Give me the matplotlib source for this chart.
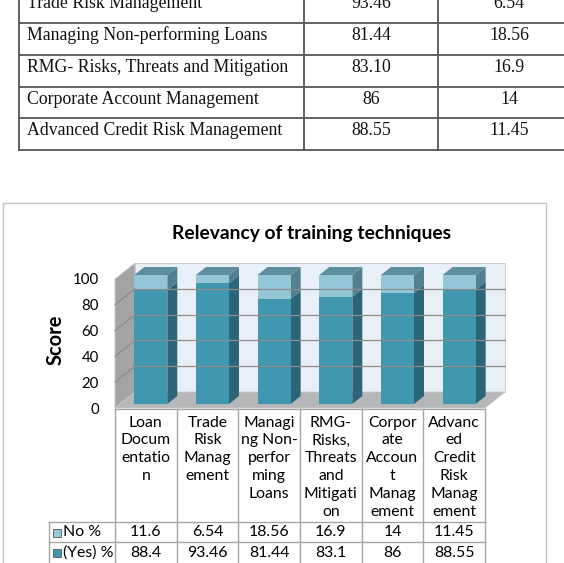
import numpy as np
import matplotlib; matplotlib.use("Agg")
import matplotlib.pyplot as plt
from matplotlib.patches import Polygon, Rectangle

# ── data ─────────────────────────────────────────────────────────────────────
doc_rows = ["Trade Risk Management", "Managing Non-performing Loans",
            "RMG- Risks, Threats and Mitigation", "Corporate Account Management",
            "Advanced Credit Risk Management"]
doc_yes = ["93.46", "81.44", "83.10", "86", "88.55"]
doc_no = ["6.54", "18.56", "16.9", "14", "11.45"]

categories = ["Loan\nDocum\nentatio\nn", "Trade\nRisk\nManag\nement",
              "Managi\nng Non-\nperfor\nming\nLoans",
              "RMG-\nRisks,\nThreats\nand\nMitigati\non",
              "Corpor\nate\nAccoun\nt\nManag\nement",
              "Advanc\ned\nCredit\nRisk\nManag\nement"]
yes_vals = [88.4, 93.46, 81.44, 83.1, 86, 88.55]
no_vals = [11.6, 6.54, 18.56, 16.9, 14, 11.45]
yticks = [0, 20, 40, 60, 80, 100]
title = "Relevancy of training techniques"

# ── colours ──────────────────────────────────────────────────────────────────
yes_front, yes_side = "#4097B0", "#2B6577"
no_front, no_side = "#93C6D7", "#52808F"
top_face = "#5D8E9D"
wall_c, side_c, floor_c = "#E9EFF7", "#A3A4A6", "#B5B6B8"
grid_c, tab_c = "#8C8C8C", "#A6A6A6"

W, H = 564, 563
fig = plt.figure(figsize=(W / 100, H / 100), dpi=100)
plt.rcParams["font.family"] = ["Lato", "DejaVu Sans"]

def fx(px):
    return px / W

def fy(py):
    return (H - py) / H

# background axes in pixel units (document table + chart frame)
bg = fig.add_axes([0, 0, 1, 1])
bg.set_xlim(0, W); bg.set_ylim(H, 0); bg.axis("off")

# ── document table ───────────────────────────────────────────────────────────
row_lines = [23, 55, 87, 118, 150]
for y in row_lines:
    bg.plot([19, W], [y, y], color="#555555", lw=1.3)
for x in [19, 304, 438]:
    bg.plot([x, x], [0, 150], color="#555555", lw=1.3)
tops = [-9] + row_lines[:-1]
for t, lab, a, b in zip(tops, doc_rows, doc_yes, doc_no):
    base = t + 17
    kw = dict(family="Liberation Serif", fontsize=12.8, va="baseline", color="#111111")
    bg.text(27, base, lab, ha="left", **kw)
    bg.text(371, base, a, ha="center", **kw)
    bg.text(509, base, b, ha="center", **kw)

# chart frame
bg.add_patch(Rectangle((3, 203), 543, 380, fill=False, ec="#C4C4C4", lw=1))
bg.text(312, 233, title, ha="center", va="center", fontsize=13.9, fontweight="bold")
bg.text(56, 340, "Score", ha="center", va="center", rotation=90,
        fontsize=14.5, fontweight="bold")

# ── 3D column chart ──────────────────────────────────────────────────────────
ax = fig.add_axes([fx(115), fy(408), fx(485) - fx(115), fy(279) - fy(408)])
ax.patch.set_visible(False)
ax.set_xlim(-0.5, 5.5); ax.set_ylim(0, 100)
for s in ax.spines.values():
    s.set_visible(False)
ax.set_xticks([])
ax.set_yticks(yticks)
ax.tick_params(axis="y", length=0, pad=11.5, labelsize=10.8)

DX, DY = 0.324, 12.4     # depth of the box, in data units
x0, x1 = -0.5, 5.5
polys = [
    ([(x0 + DX, DY), (x1 + DX, DY), (x1 + DX, 100 + DY), (x0 + DX, 100 + DY)], wall_c),
    ([(x0, 0), (x1, 0), (x1 + DX, DY), (x0 + DX, DY)], floor_c),
    ([(x0, 0), (x0 + DX, DY), (x0 + DX, 100 + DY), (x0, 100)], side_c),
]
for pts, c in polys:
    ax.add_patch(Polygon(pts, closed=True, fc=c, ec="#C8C8C8", lw=0.6, clip_on=False))
for v in yticks[1:-1]:
    ax.plot([x0 + DX, x1 + DX], [v + DY, v + DY], color=grid_c, lw=0.9, clip_on=False)
    ax.plot([x0, x0 + DX], [v, v + DY], color="#8A8A8A", lw=0.8, clip_on=False)

w = 0.535
f0, f1 = 0.25, 0.75
ddx, ddy = (f1 - f0) * DX, (f1 - f0) * DY
for i, (yv, nv) in enumerate(zip(yes_vals, no_vals)):
    cx = i + f0 * DX
    b = f0 * DY
    r = cx + w / 2
    l = cx - w / 2
    for y0, y1, c in [(0, yv, yes_side), (yv, yv + nv, no_side)]:
        ax.add_patch(Polygon([(r, b + y0), (r + ddx, b + y0 + ddy),
                              (r + ddx, b + y1 + ddy), (r, b + y1)],
                             fc=c, ec="none", clip_on=False))
    tot = yv + nv
    ax.add_patch(Polygon([(l, b + tot), (r, b + tot), (r + ddx, b + tot + ddy),
                          (l + ddx, b + tot + ddy)], fc=top_face, ec="none", clip_on=False))
    ax.bar(cx, yv, width=w, bottom=b, color=yes_front, clip_on=False)
    ax.bar(cx, nv, width=w, bottom=b + yv, color=no_front, clip_on=False)

# ── data table under the chart ───────────────────────────────────────────────
tb = fig.add_axes([fx(115), 0, fx(485) - fx(115), fy(409)])
tb.patch.set_visible(False); tb.axis("off")
tb.set_xlim(-0.5, 5.5); tb.set_ylim(H, 409)
leg_x = -0.5 - 66 / 61.7
for k in range(7):
    tb.plot([k - 0.5, k - 0.5], [409, H + 5], color=tab_c, lw=1, clip_on=False)
tb.plot([-0.5, 5.5], [409, 409], color=tab_c, lw=1, clip_on=False)
for y in [522, 542]:
    tb.plot([leg_x, 5.5], [y, y], color=tab_c, lw=1, clip_on=False)
tb.plot([leg_x, leg_x], [522, H + 5], color=tab_c, lw=1, clip_on=False)

for i, lab in enumerate(categories):
    tb.text(i, 415.5, lab, ha="center", va="top", fontsize=11.3, linespacing=1.36)
    tb.text(i, 532.5, f"{no_vals[i]:g}", ha="center", va="center", fontsize=11.4)
    tb.text(i, 553, f"{yes_vals[i]:g}", ha="center", va="center", fontsize=11.4)

for y, name, c in [(532.5, "No %", no_front), (553, "(Yes) %", yes_front)]:
    bg.add_patch(Rectangle((52.5, y - 4), 8, 8, fc=c, ec="#555555", lw=0.6))
    bg.text(63, y, name, ha="left", va="center", fontsize=11.4)

fig.savefig("out.png", dpi=100)
